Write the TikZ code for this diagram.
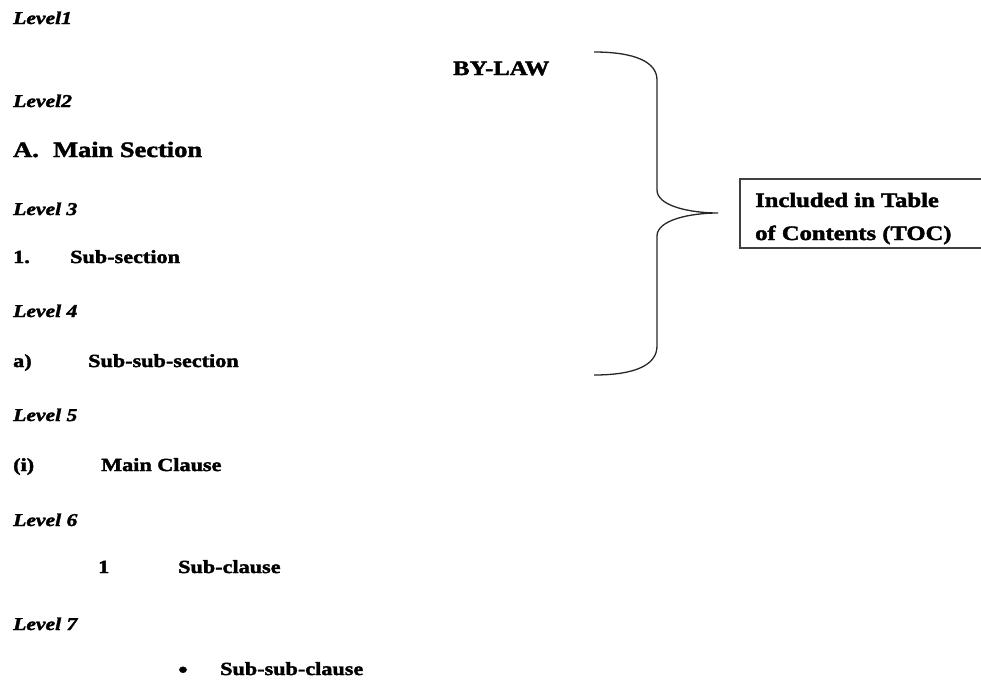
\documentclass[tikz,border=0pt]{standalone}
\usepackage{fontspec}
\setmainfont{Liberation Serif}[FakeStretch=1.2, BoldFeatures={FakeBold=2}, BoldItalicFeatures={FakeBold=2}]
\begin{document}
\begin{tikzpicture}[x=1pt,y=1pt,
  txt/.style={inner sep=0pt, anchor=base west, font=\fontsize{18.5}{20}\selectfont\bfseries},
  lvl/.style={inner sep=0pt, anchor=base west, font=\fontsize{18}{20}\selectfont\bfseries\itshape},
  big/.style={inner sep=0pt, anchor=base west, font=\fontsize{22}{24}\selectfont\bfseries},
  boxtxt/.style={inner sep=0pt, anchor=base west, font=\fontsize{20.5}{22}\selectfont\bfseries},
  brace/.style={line width=1.3pt, draw=black!85}
]
\useasboundingbox (0,0) rectangle (981,-680);
% level labels
\node[lvl] (l1) at (13,-24) {Level1};
\node[lvl] (l2) at (13,-107) {Level2};
\node[lvl] (l3) at (13,-215) {Level 3};
\node[lvl] (l4) at (13,-317) {Level 4};
\node[lvl] (l5) at (13,-421) {Level 5};
\node[lvl] (l6) at (13,-526) {Level 6};
\node[lvl] (l7) at (13,-630) {Level 7};
% items
\node[big] (nA) at (13,-157) {A.};
\node[big] (tA) at (53,-157) {Main Section};
\node[txt] (n1) at (13,-263) {1.};
\node[txt] (t1) at (70,-263) {Sub-section};
\node[txt] (na) at (13,-367) {a)};
\node[txt] (ta) at (88,-367) {Sub-sub-section};
\node[txt] (ni) at (13,-471) {(i)};
\node[txt] (ti) at (101,-471) {Main Clause};
\node[txt] (n6) at (98,-573) {1};
\node[txt] (t6) at (178,-573) {Sub-clause};
\node[txt, anchor=base, font=\fontsize{22}{24}\selectfont\bfseries] (n7) at (183,-677) {\textbullet};
\node[txt] (t7) at (220,-675) {Sub-sub-clause};
% title
\node[big, font=\fontsize{20.5}{22}\selectfont\bfseries] (bylaw) at (453,-75) {BY-LAW};
% brace
\coordinate (bt) at (594,-52);
\coordinate (bb) at (594,-375);
\coordinate (tip) at (718,-213);
\draw[brace] (bt) .. controls (635,-52) and (657,-62) .. (657,-80)
  -- (657,-190) .. controls (657,-206) and (690,-213) .. (tip)
  .. controls (690,-213) and (657,-220) .. (657,-236)
  -- (657,-346) .. controls (657,-365) and (635,-375) .. (bb);
% TOC box
\node[draw=black!75, line width=1.5pt, anchor=north west, minimum width=260pt, minimum height=69pt, inner sep=0pt] (toc) at (739,-178) {};
\node[boxtxt] (toc1) at (755,-207) {Included in Table};
\node[boxtxt] (toc2) at (755,-240) {of Contents (TOC)};
\end{tikzpicture}
\end{document}
